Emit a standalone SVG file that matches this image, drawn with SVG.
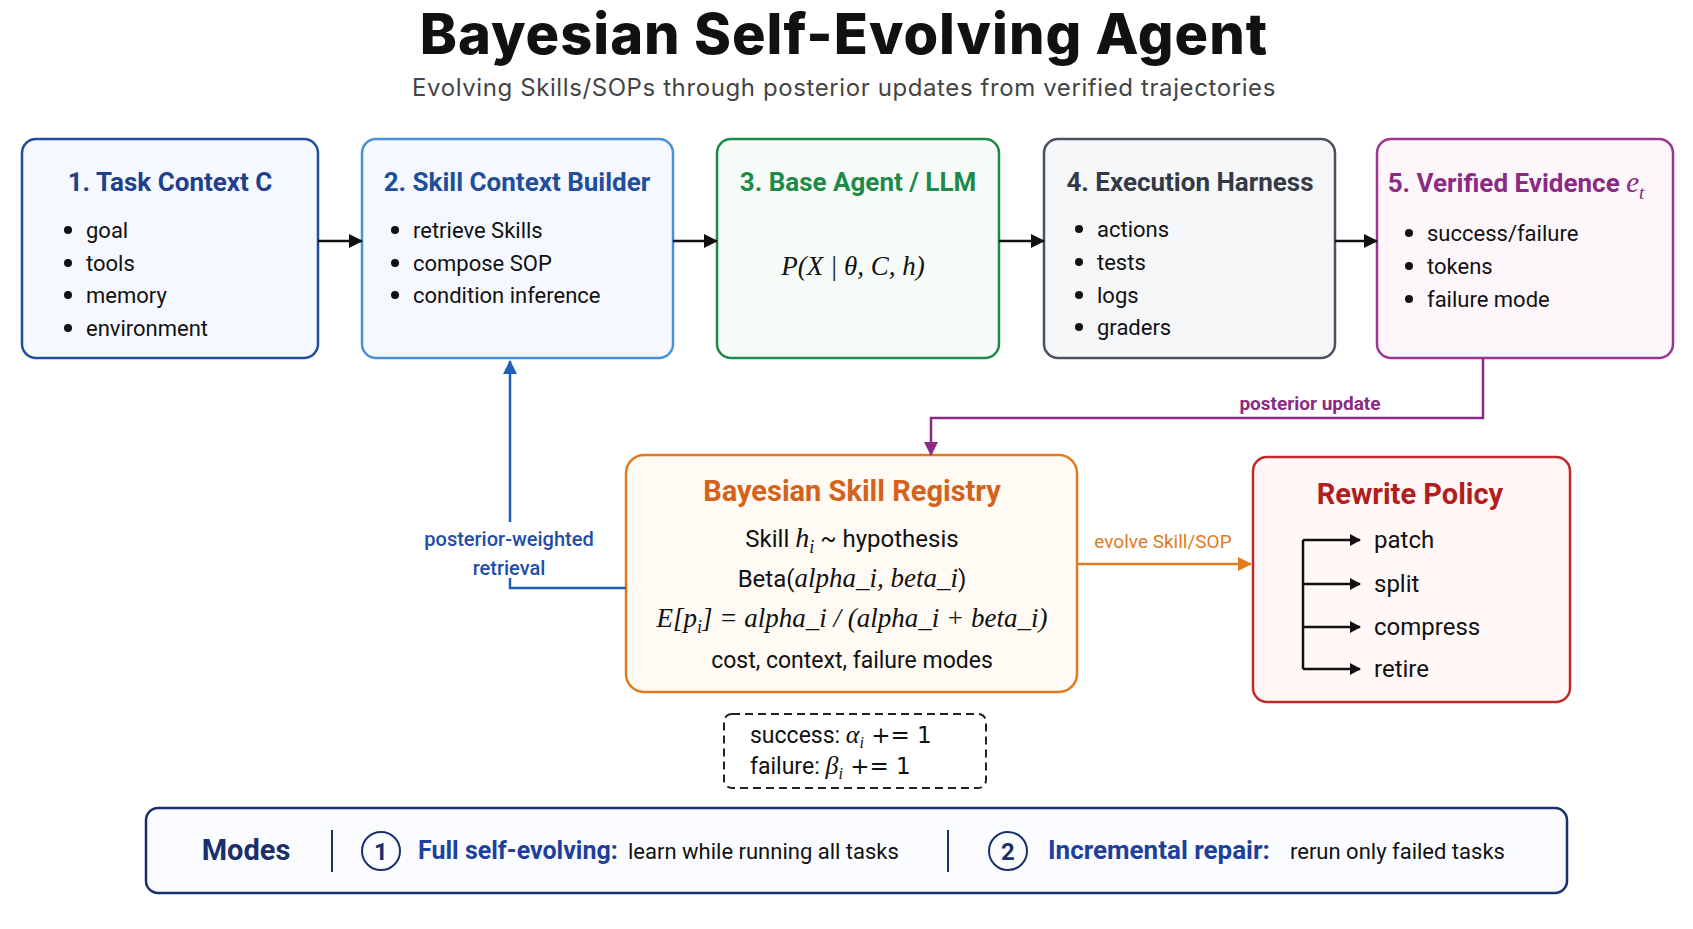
<svg xmlns="http://www.w3.org/2000/svg" width="1693" height="929" viewBox="0 0 1693 929">
<defs>
<marker id="ap" markerWidth="14" markerHeight="14" refX="13" refY="7" orient="auto" markerUnits="userSpaceOnUse"><path d="M0,0 L14,7 L0,14 z" fill="#8b2a82"/></marker>
<marker id="ab" markerWidth="14" markerHeight="14" refX="13" refY="7" orient="auto" markerUnits="userSpaceOnUse"><path d="M0,0 L14,7 L0,14 z" fill="#1f5fb5"/></marker>
<marker id="ao" markerWidth="14" markerHeight="14" refX="13" refY="7" orient="auto" markerUnits="userSpaceOnUse"><path d="M0,0 L14,7 L0,14 z" fill="#e07b20"/></marker>
<marker id="ak" markerWidth="14" markerHeight="14" refX="13" refY="7" orient="auto" markerUnits="userSpaceOnUse"><path d="M0,0 L14,7 L0,14 z" fill="#111"/></marker>
</defs>
<style>
text{font-family:Roboto,"Liberation Sans",sans-serif;fill:#111}
.t{font-size:26px;font-weight:700;text-anchor:middle}
.b{font-size:22px}
.d{fill:#111}
.m{font-family:"Liberation Serif",serif;font-style:italic}
.box{stroke-width:2.5}
.c{fill:none;stroke-width:2.5}
</style>
<rect width="1693" height="929" fill="#fff"/>
<text x="844" y="54" style="font-size:56px;font-weight:800;text-anchor:middle;font-family:Inter,'Liberation Sans',sans-serif;letter-spacing:1px">Bayesian Self-Evolving Agent</text>
<text x="844" y="96" style="font-size:24px;text-anchor:middle;fill:#444;font-family:Inter,'Liberation Sans',sans-serif;letter-spacing:0.6px">Evolving Skills/SOPs through posterior updates from verified trajectories</text>

<g id="task-context">
<rect class="box" x="22" y="139" width="296" height="219" rx="14" fill="#f5f9ff" stroke="#1f4e9c"/>
<text class="t" x="170" y="191" style="fill:#1f3f8c">1. Task Context C</text>
<circle class="d" cx="68" cy="230" r="4"/><circle class="d" cx="68" cy="263" r="4"/><circle class="d" cx="68" cy="295" r="4"/><circle class="d" cx="68" cy="328" r="4"/>
<text class="b" x="86" y="238">goal</text><text class="b" x="86" y="271">tools</text><text class="b" x="86" y="303">memory</text><text class="b" x="86" y="336">environment</text>
</g>
<g id="skill-context-builder">
<rect class="box" x="362" y="139" width="311" height="219" rx="14" fill="#f5f9ff" stroke="#4a90d9"/>
<text class="t" x="517" y="191" style="fill:#1f4e9c">2. Skill Context Builder</text>
<circle class="d" cx="395" cy="230" r="4"/><circle class="d" cx="395" cy="263" r="4"/><circle class="d" cx="395" cy="295" r="4"/>
<text class="b" x="413" y="238">retrieve Skills</text><text class="b" x="413" y="271">compose SOP</text><text class="b" x="413" y="303">condition inference</text>
</g>
<g id="base-agent">
<rect class="box" x="717" y="139" width="282" height="219" rx="14" fill="#f7fcf8" stroke="#1e8a4a"/>
<text class="t" x="858" y="191" style="fill:#1e8a4a">3. Base Agent / LLM</text>
<text class="m" x="853" y="275" style="font-size:27px;text-anchor:middle">P(X | θ,  C,  h)</text>
</g>
<g id="execution-harness">
<rect class="box" x="1044" y="139" width="291" height="219" rx="14" fill="#f6f7f9" stroke="#4a5160"/>
<text class="t" x="1190" y="191" style="fill:#333a46">4. Execution Harness</text>
<circle class="d" cx="1079" cy="229" r="4"/><circle class="d" cx="1079" cy="262" r="4"/><circle class="d" cx="1079" cy="295" r="4"/><circle class="d" cx="1079" cy="327" r="4"/>
<text class="b" x="1097" y="237">actions</text><text class="b" x="1097" y="270">tests</text><text class="b" x="1097" y="303">logs</text><text class="b" x="1097" y="335">graders</text>
</g>
<g id="verified-evidence">
<rect class="box" x="1377" y="139" width="296" height="219" rx="14" fill="#fdf7fc" stroke="#9b3590"/>
<text class="t" x="1516" y="192" style="fill:#8b2a82">5. Verified Evidence <tspan class="m" style="font-weight:400;font-size:29px;fill:#8b2a82">e</tspan><tspan class="m" dy="7" style="font-weight:400;font-size:19px;fill:#8b2a82">t</tspan></text>
<circle class="d" cx="1409" cy="233" r="4"/><circle class="d" cx="1409" cy="266" r="4"/><circle class="d" cx="1409" cy="299" r="4"/>
<text class="b" x="1427" y="241">success/failure</text><text class="b" x="1427" y="274">tokens</text><text class="b" x="1427" y="307">failure mode</text>
</g>
<g id="skill-registry">
<rect class="box" x="626" y="455" width="451" height="237" rx="18" fill="#fffaf3" stroke="#e07b20"/>
<text class="t" x="852" y="501" style="font-size:29px;fill:#d4621a">Bayesian Skill Registry</text>
<text x="852" y="547" style="font-size:24px;text-anchor:middle">Skill  <tspan class="m" style="font-size:28px">h</tspan><tspan class="m" dy="6" style="font-size:18px">i</tspan><tspan dy="-6"> ~ hypothesis</tspan></text>
<text x="852" y="587" style="font-size:24px;text-anchor:middle">Beta(<tspan class="m" style="font-size:27px">alpha_i, beta_i</tspan>)</text>
<text class="m" x="852" y="627" style="font-size:27px;text-anchor:middle">E[p<tspan dy="6" style="font-size:18px">i</tspan><tspan dy="-6">] = alpha_i  / (alpha_i + beta_i)</tspan></text>
<text x="852" y="668" style="font-size:23px;text-anchor:middle">cost, context, failure modes</text>
</g>
<g id="rewrite-policy">
<rect class="box" x="1253" y="457" width="317" height="245" rx="14" fill="#fff8f6" stroke="#c0282a"/>
<text class="t" x="1410" y="504" style="font-size:29px;fill:#b01e22">Rewrite Policy</text>
<path d="M1303,540 V669 M1303,540 H1360 M1303,584 H1360 M1303,627 H1360 M1303,669 H1360" fill="none" stroke="#111" stroke-width="2.5"/>
<path d="M1350,534 L1361,540 L1350,546z M1350,578 L1361,584 L1350,590z M1350,621 L1361,627 L1350,633z M1350,663 L1361,669 L1350,675z" fill="#111"/>
<text x="1374" y="548" style="font-size:24px">patch</text><text x="1374" y="592" style="font-size:24px">split</text><text x="1374" y="635" style="font-size:24px">compress</text><text x="1374" y="677" style="font-size:24px">retire</text>
</g>
<g id="update-rule">
<rect x="724" y="714" width="262" height="74" rx="8" fill="#fff" stroke="#222" stroke-width="2" stroke-dasharray="8,5"/>
<text x="750" y="743" style="font-size:23px">success:  <tspan class="m" style="font-size:26px">α</tspan><tspan class="m" dy="5" style="font-size:16px">i</tspan><tspan dy="-5" style="font-family:'DejaVu Sans'"> += 1</tspan></text>
<text x="750" y="774" style="font-size:23px">failure:  <tspan class="m" style="font-size:26px">β</tspan><tspan class="m" dy="5" style="font-size:16px">i</tspan><tspan dy="-5" style="font-family:'DejaVu Sans'"> += 1</tspan></text>
</g>
<g id="modes">
<rect x="146" y="808" width="1421" height="85" rx="12" fill="#fbfcff" stroke="#1a2f6b" stroke-width="2.5"/>
<text x="246" y="860" style="font-size:29px;font-weight:700;text-anchor:middle;fill:#1a2f6b">Modes</text>
<line x1="332" y1="830" x2="332" y2="872" stroke="#1a2f6b" stroke-width="2"/>
<circle cx="381" cy="851" r="19" fill="none" stroke="#1a2f6b" stroke-width="2"/>
<text x="381" y="860" style="font-size:24px;font-weight:700;text-anchor:middle;fill:#1a2f6b">1</text>
<text x="418" y="859" style="font-size:25px;font-weight:700;fill:#1f3f9c">Full self-evolving:</text>
<text x="628" y="859" style="font-size:22px">learn while running all tasks</text>
<line x1="948" y1="830" x2="948" y2="872" stroke="#1a2f6b" stroke-width="2"/>
<circle cx="1008" cy="851" r="19" fill="none" stroke="#1a2f6b" stroke-width="2"/>
<text x="1008" y="860" style="font-size:24px;font-weight:700;text-anchor:middle;fill:#1a2f6b">2</text>
<text x="1048" y="859" style="font-size:26px;font-weight:700;fill:#1f3f9c">Incremental repair:</text>
<text x="1290" y="859" style="font-size:22px">rerun only failed tasks</text>
</g>
<g id="connectors">
<path class="c" stroke="#111" d="M318,241 H362" marker-end="url(#ak)"/>
<path class="c" stroke="#111" d="M673,241 H717" marker-end="url(#ak)"/>
<path class="c" stroke="#111" d="M999,241 H1044" marker-end="url(#ak)"/>
<path class="c" stroke="#111" d="M1335,241 H1377" marker-end="url(#ak)"/>
<path class="c" stroke="#8b2a82" d="M1483,358 V418 H931 V455" marker-end="url(#ap)"/>
<text x="1310" y="410" style="font-size:19px;font-weight:700;text-anchor:middle;fill:#8b2a82">posterior update</text>
<path class="c" stroke="#1f5fb5" d="M626,588 H510 V361" marker-end="url(#ab)"/>
<rect x="415" y="522" width="190" height="56" fill="#fff"/>
<text x="509" y="546" style="font-size:20px;font-weight:500;text-anchor:middle;fill:#1f4ea8">posterior-weighted</text>
<text x="509" y="575" style="font-size:20px;font-weight:500;text-anchor:middle;fill:#1f4ea8">retrieval</text>
<path class="c" stroke="#e07b20" d="M1077,564 H1251" marker-end="url(#ao)"/>
<text x="1163" y="548" style="font-size:19px;text-anchor:middle;fill:#e07b20">evolve Skill/SOP</text>
</g>
</svg>
